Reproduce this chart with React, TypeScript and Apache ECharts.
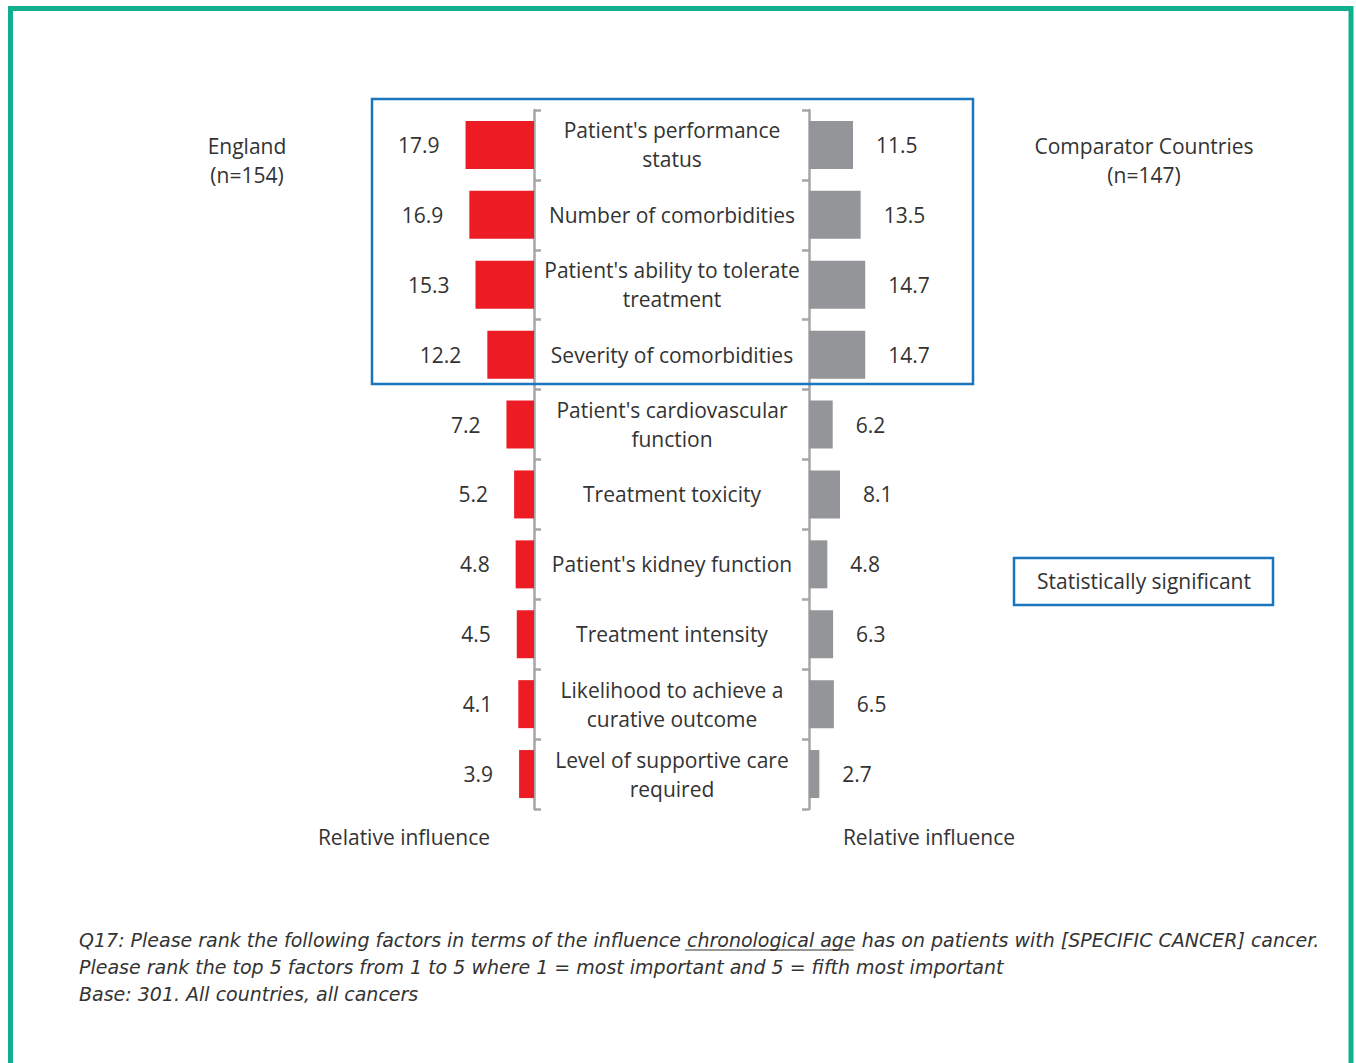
import React, { useEffect, useRef } from "react";
import * as echarts from "echarts";

const categories = [
  "Patient's performance\nstatus",
  "Number of comorbidities",
  "Patient's ability to tolerate\ntreatment",
  "Severity of comorbidities",
  "Patient's cardiovascular\nfunction",
  "Treatment toxicity",
  "Patient's kidney function",
  "Treatment intensity",
  "Likelihood to achieve a\ncurative outcome",
  "Level of supportive care\nrequired",
];
const englandValues = [17.9, 16.9, 15.3, 12.2, 7.2, 5.2, 4.8, 4.5, 4.1, 3.9];
const comparatorValues = [11.5, 13.5, 14.7, 14.7, 6.2, 8.1, 4.8, 6.3, 6.5, 2.7];
const leftTitle = "England\n(n=154)";
const rightTitle = "Comparator Countries\n(n=147)";
const axisTitle = "Relative influence";
const sigLabel = "Statistically significant";
const footLines = [
  "Q17: Please rank the following factors in terms of the influence chronological age has on patients with [SPECIFIC CANCER] cancer.",
  "Please rank the top 5 factors from 1 to 5 where 1 = most important and 5 = fifth most important",
  "Base: 301. All countries, all cancers",
];
const underlined = "chronological age";

const FONT = "'Open Sans', sans-serif";
const FOOT_FONT = "italic 19px 'DejaVu Sans', sans-serif";
const TXT = "#333333";
const AXIS_GRAY = "#a6a6a8";

export default function App() {
  const ref = useRef<HTMLDivElement>(null);
  useEffect(() => {
    document.body.style.margin = "0";
    const chart = echarts.init(ref.current!, null, { renderer: "svg" });
    const W = 1356;
    const ctx = document.createElement("canvas").getContext("2d")!;
    ctx.font = FOOT_FONT;
    const idx = footLines[0].indexOf(underlined);
    const ux1 = 79 + ctx.measureText(footLines[0].slice(0, idx)).width;
    const ux2 = ux1 + ctx.measureText(underlined).width;
    const axisLine = { show: true, lineStyle: { color: AXIS_GRAY, width: 2.5 } };
    const axisTick = { show: true, length: 7, lineStyle: { color: AXIS_GRAY, width: 2.5 } };
    const option: any = {
      animation: false,
      backgroundColor: "#ffffff",
      textStyle: { fontFamily: FONT },
      grid: [
        { left: 381, right: W - 534, top: 110, bottom: 1063 - 809 },
        { left: 809, width: 153, top: 110, bottom: 1063 - 809 },
      ],
      xAxis: [
        { gridIndex: 0, type: "value", min: 0, max: 40, inverse: true, show: false },
        { gridIndex: 1, type: "value", min: 0, max: 40, show: false },
      ],
      yAxis: [
        {
          gridIndex: 0,
          type: "category",
          data: categories,
          inverse: true,
          position: "right",
          axisLine,
          axisTick,
          axisLabel: {
            show: true,
            align: "center",
            margin: 138,
            color: TXT,
            fontSize: 21,
            lineHeight: 29,
            fontFamily: FONT,
          },
        },
        {
          gridIndex: 1,
          type: "category",
          data: categories,
          inverse: true,
          position: "left",
          axisLine,
          axisTick,
          axisLabel: { show: false },
        },
      ],
      series: [
        {
          type: "bar",
          xAxisIndex: 0,
          yAxisIndex: 0,
          data: englandValues,
          barWidth: 48,
          itemStyle: { color: "#ed1c24" },
          label: {
            show: true,
            position: "left",
            distance: 26,
            color: TXT,
            fontSize: 21,
            fontFamily: FONT,
          },
        },
        {
          type: "bar",
          xAxisIndex: 1,
          yAxisIndex: 1,
          data: comparatorValues,
          barWidth: 48,
          itemStyle: { color: "#939598" },
          label: {
            show: true,
            position: "right",
            distance: 23,
            color: TXT,
            fontSize: 21,
            fontFamily: FONT,
          },
        },
      ],
      graphic: [
        {
          type: "rect",
          shape: { x: 10.5, y: 8.5, width: 1340.5, height: 1100 },
          style: { fill: "none", stroke: "#10b08e", lineWidth: 5 },
          silent: true,
        },
        {
          type: "rect",
          shape: { x: 372, y: 99, width: 601, height: 285 },
          style: { fill: "none", stroke: "#1b75bc", lineWidth: 2.5 },
          z: 10,
        },
        {
          type: "rect",
          shape: { x: 1014, y: 558, width: 259, height: 47 },
          style: { fill: "none", stroke: "#1b75bc", lineWidth: 2.5 },
        },
        {
          type: "text",
          x: 1144,
          y: 581,
          style: { text: sigLabel, fill: TXT, font: `21px ${FONT}`, align: "center", verticalAlign: "middle" },
        },
        {
          type: "text",
          x: 247,
          y: 160,
          style: { text: leftTitle, fill: TXT, font: `21px ${FONT}`, align: "center", verticalAlign: "middle", lineHeight: 29 },
        },
        {
          type: "text",
          x: 1144,
          y: 160,
          style: { text: rightTitle, fill: TXT, font: `21px ${FONT}`, align: "center", verticalAlign: "middle", lineHeight: 29 },
        },
        {
          type: "text",
          x: 404,
          y: 837,
          style: { text: axisTitle, fill: TXT, font: `21px ${FONT}`, align: "center", verticalAlign: "middle" },
        },
        {
          type: "text",
          x: 929,
          y: 837,
          style: { text: axisTitle, fill: TXT, font: `21px ${FONT}`, align: "center", verticalAlign: "middle" },
        },
        ...footLines.map((t, i) => ({
          type: "text",
          x: 79,
          y: 940 + i * 27,
          style: { text: t, fill: TXT, font: FOOT_FONT, align: "left", verticalAlign: "middle" },
        })),
        {
          type: "line",
          shape: { x1: ux1 - 2, y1: 950, x2: ux2 - 2, y2: 950 },
          style: { stroke: TXT, lineWidth: 1.2 },
        },
      ],
    };
    chart.setOption(option);
    return () => chart.dispose();
  }, []);
  return <div ref={ref} style={{ width: 1356, height: 1063 }} />;
}
